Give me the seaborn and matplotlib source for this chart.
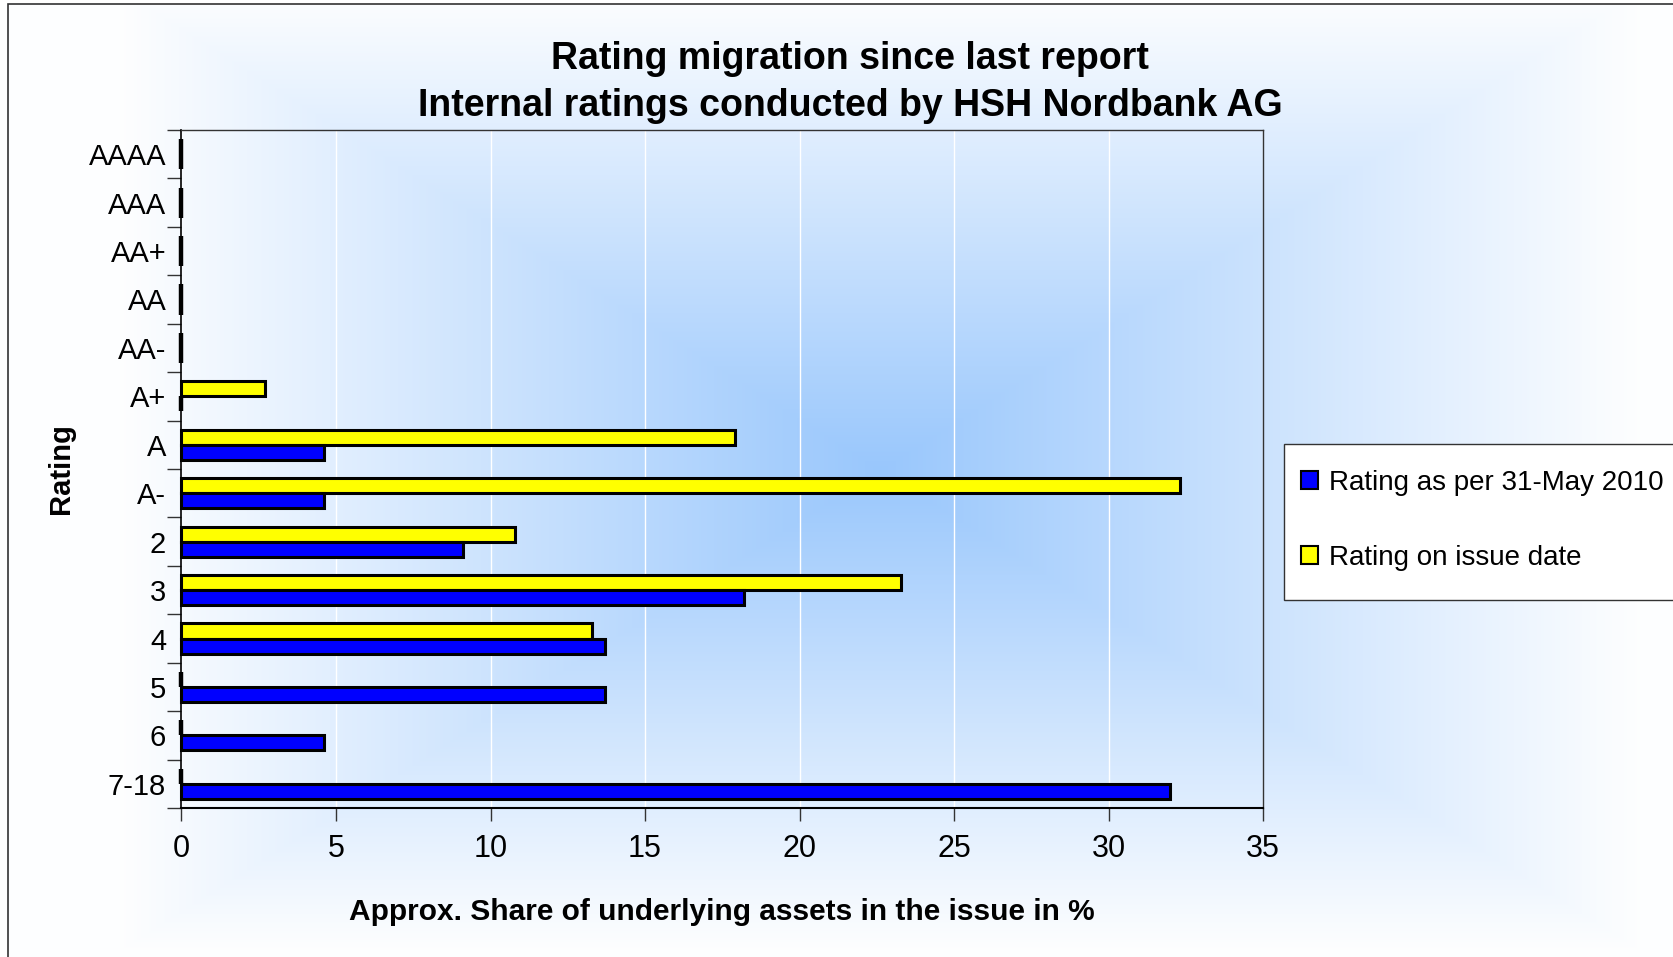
import numpy as np
import pandas as pd
import seaborn as sns
import matplotlib.pyplot as plt
from matplotlib.patches import Patch, Rectangle
from matplotlib.ticker import FixedLocator

ratings = ["AAAA", "AAA", "AA+", "AA", "AA-", "A+", "A", "A-", "2", "3", "4", "5", "6", "7-18"]
share_current = [0, 0, 0, 0, 0, 0, 4.6, 4.6, 9.1, 18.2, 13.7, 13.7, 4.6, 32.0]
share_issue = [0, 0, 0, 0, 0, 2.7, 17.9, 32.3, 10.8, 23.3, 13.3, 0, 0, 0]

label_current = "Rating as per 31-May 2010"
label_issue = "Rating on issue date"
blue = "#0000ff"
yellow = "#ffff00"

df = pd.DataFrame({
    "Rating": ratings * 2,
    "Share": share_current + share_issue,
    "Series": [label_current] * len(ratings) + [label_issue] * len(ratings),
})

sns.set_style("white")
plt.rcParams["font.family"] = ["Liberation Sans", "DejaVu Sans"]
plt.rcParams["text.color"] = "black"
plt.rcParams["axes.labelcolor"] = "black"
plt.rcParams["xtick.color"] = "black"
plt.rcParams["ytick.color"] = "black"

fig = plt.figure(figsize=(16.74, 9.57), dpi=100)

# rectangular "from centre" gradient behind the whole chart
bg = fig.add_axes([0, 0, 1, 1], zorder=-5)
yy, xx = np.mgrid[0:957, 0:1674]
t = np.maximum(np.abs(xx - 880) / 760, np.abs(yy - 470) / 480)
t = np.clip(t, 0, 1)
c0 = np.array([0.60, 0.78, 0.99])
c1 = np.array([0.995, 0.997, 1.0])
img = c0 + (c1 - c0) * t[..., None]
img[:4, :] = 1
img[:, :9] = 1
bg.imshow(img, aspect="auto", interpolation="bilinear")
bg.axis("off")
fig.patches.append(Rectangle((8.5 / 1674, -0.2), 1.2, 1.2 - 4.3 / 957, transform=fig.transFigure,
                             fill=False, edgecolor="#333333", linewidth=1.2, zorder=10))

ax = fig.add_axes([181.5 / 1674, 1 - 808 / 957, (1263 - 181.5) / 1674, (808 - 130) / 957])
ax.set_facecolor("none")

sns.barplot(data=df, y="Rating", x="Share", hue="Series", order=ratings,
            hue_order=[label_issue, label_current], palette=[yellow, blue], saturation=1,
            orient="h", width=0.62, edgecolor="black", linewidth=2.2,
            legend=False, ax=ax, zorder=3)
# let the zero-length bars show as black stubs on the axis
for p in ax.patches:
    p.set_clip_on(False)
    if p.get_width() == 0:
        p.set_linewidth(3.2)

ax.set_xlim(0, 35)
ax.set_ylim(13.5, -0.5)
ax.set_xticks(range(0, 36, 5))
ax.grid(axis="x", color="white", linewidth=1, zorder=0)
ax.set_axisbelow(True)

ax.tick_params(axis="x", which="major", direction="out", length=9, width=1, color="#333333",
               labelsize=22, pad=10, bottom=True)
ax.tick_params(axis="y", which="major", length=0, labelsize=21, pad=11)
ax.yaxis.set_minor_locator(FixedLocator(np.arange(-0.5, 14, 1)))
ax.tick_params(axis="y", which="minor", direction="out", length=10, width=1, color="#333333", left=True)

for side in ["top", "right"]:
    ax.spines[side].set_color("#333333")
    ax.spines[side].set_linewidth(1)
ax.spines["left"].set_color("black")
ax.spines["left"].set_linewidth(1.2)
ax.spines["bottom"].set_color("black")
ax.spines["bottom"].set_linewidth(1.5)

ax.set_xlabel("Approx. Share of underlying assets in the issue in %", fontsize=21.5,
              fontweight="bold", labelpad=24)
ax.set_ylabel("Rating", fontsize=21, fontweight="bold", labelpad=10)

fig.text(0.508, 1 - 59 / 957, "Rating migration since last report", ha="center", va="center",
         fontsize=27, fontweight="bold")
fig.text(0.508, 1 - 106 / 957, "Internal ratings conducted by HSH Nordbank AG", ha="center",
         va="center", fontsize=27, fontweight="bold")

# legend box drawn by hand, running off the right edge like the original
fig.patches.append(Rectangle((1284 / 1674, 1 - 600 / 957), 0.4, 156 / 957, transform=fig.transFigure,
                             facecolor="white", edgecolor="#333333", linewidth=1, zorder=4))
handles = [Patch(facecolor=blue, edgecolor="black", linewidth=1.5, label=label_current),
           Patch(facecolor=yellow, edgecolor="black", linewidth=1.5, label=label_issue)]
leg = fig.legend(handles=handles, loc="upper left", bbox_to_anchor=(1301 / 1674, 1 - 470 / 957),
                 fontsize=20, frameon=False, labelspacing=1.75,
                 handlelength=0.6, handleheight=0.6, handletextpad=0.4,
                 borderpad=0, borderaxespad=0)
leg.set_zorder(5)

fig.savefig("out.png", dpi=100)
